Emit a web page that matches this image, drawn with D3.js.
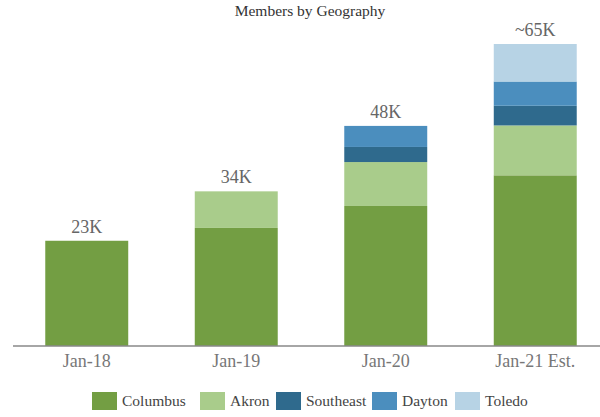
<!DOCTYPE html>
<html>
<head>
<meta charset="utf-8">
<script src="https://cdn.jsdelivr.net/npm/d3@7"></script>
<style>
  html, body { margin: 0; padding: 0; background: #fff; }
  svg { display: block; }
  svg text { font-family: "Liberation Serif", "Tinos", "Times New Roman", "DejaVu Serif", serif; }
</style>
</head>
<body>
<svg id="chart" width="600" height="417"></svg>
<script>
const categories = ["Jan-18", "Jan-19", "Jan-20", "Jan-21 Est."];
const seriesNames = ["Columbus", "Akron", "Southeast", "Dayton", "Toledo"];
const columbus  = [23, 25.8, 30.6, 37.3];
const akron     = [0, 8.0, 9.6, 10.9];
const southeast = [0, 0, 3.3, 4.3];
const dayton    = [0, 0, 4.6, 5.3];
const toledo    = [0, 0, 0, 8.2];
const totalLabels = ["23K", "34K", "48K", "~65K"];
const colors = ["#739e43", "#a9cc8b", "#2f6a8d", "#4b8ebe", "#b7d3e5"];

const seriesValues = [columbus, akron, southeast, dayton, toledo];
const table = categories.map((c, i) => {
  const row = { cat: c };
  seriesNames.forEach((s, j) => row[s] = seriesValues[j][i]);
  return row;
});

const svg = d3.select("#chart");

const x = d3.scaleBand().domain(categories).range([12, 610])
  .paddingInner(0.445).paddingOuter(0.2225);
const y = d3.scaleLinear().domain([0, 66]).range([346, 44]);

const stacked = d3.stack().keys(seriesNames)(table);
const color = d3.scaleOrdinal().domain(seriesNames).range(colors);

svg.append("text")
  .attr("x", 310).attr("y", 16)
  .attr("text-anchor", "middle")
  .style("font-size", "15.5px")
  .attr("fill", "#333")
  .text("Members by Geography");

svg.append("g").selectAll("g").data(stacked).join("g")
  .attr("fill", d => color(d.key))
  .selectAll("rect").data(d => d).join("rect")
  .attr("x", d => x(d.data.cat))
  .attr("width", x.bandwidth())
  .attr("y", d => y(d[1]))
  .attr("height", d => y(d[0]) - y(d[1]));

const totals = table.map(r => d3.sum(seriesNames, s => r[s]));
svg.append("g").selectAll("text").data(categories).join("text")
  .attr("x", d => x(d) + x.bandwidth() / 2)
  .attr("y", (d, i) => y(totals[i]) - 8)
  .attr("text-anchor", "middle")
  .style("font-size", "18px")
  .attr("fill", "#666")
  .text((d, i) => totalLabels[i]);

const axis = d3.axisBottom(x).tickSize(0).tickPadding(8);
const gx = svg.append("g").attr("transform", "translate(0,346)").call(axis);
gx.attr("font-family", null);
gx.select(".domain").attr("d", "M13,0H600").attr("stroke", "#888").attr("stroke-width", 1.5);
gx.selectAll("text").style("font-size", "18px").attr("fill", "#777");

const legendX = [92, 200, 276, 372, 455];
const lg = svg.append("g").selectAll("g").data(seriesNames).join("g")
  .attr("transform", (d, i) => `translate(${legendX[i]},392)`);
lg.append("rect").attr("width", 25).attr("height", 18).attr("fill", d => color(d));
lg.append("text").attr("x", 30).attr("y", 14)
  .style("font-size", "15.5px").attr("fill", "#444")
  .text(d => d);
</script>
</body>
</html>
